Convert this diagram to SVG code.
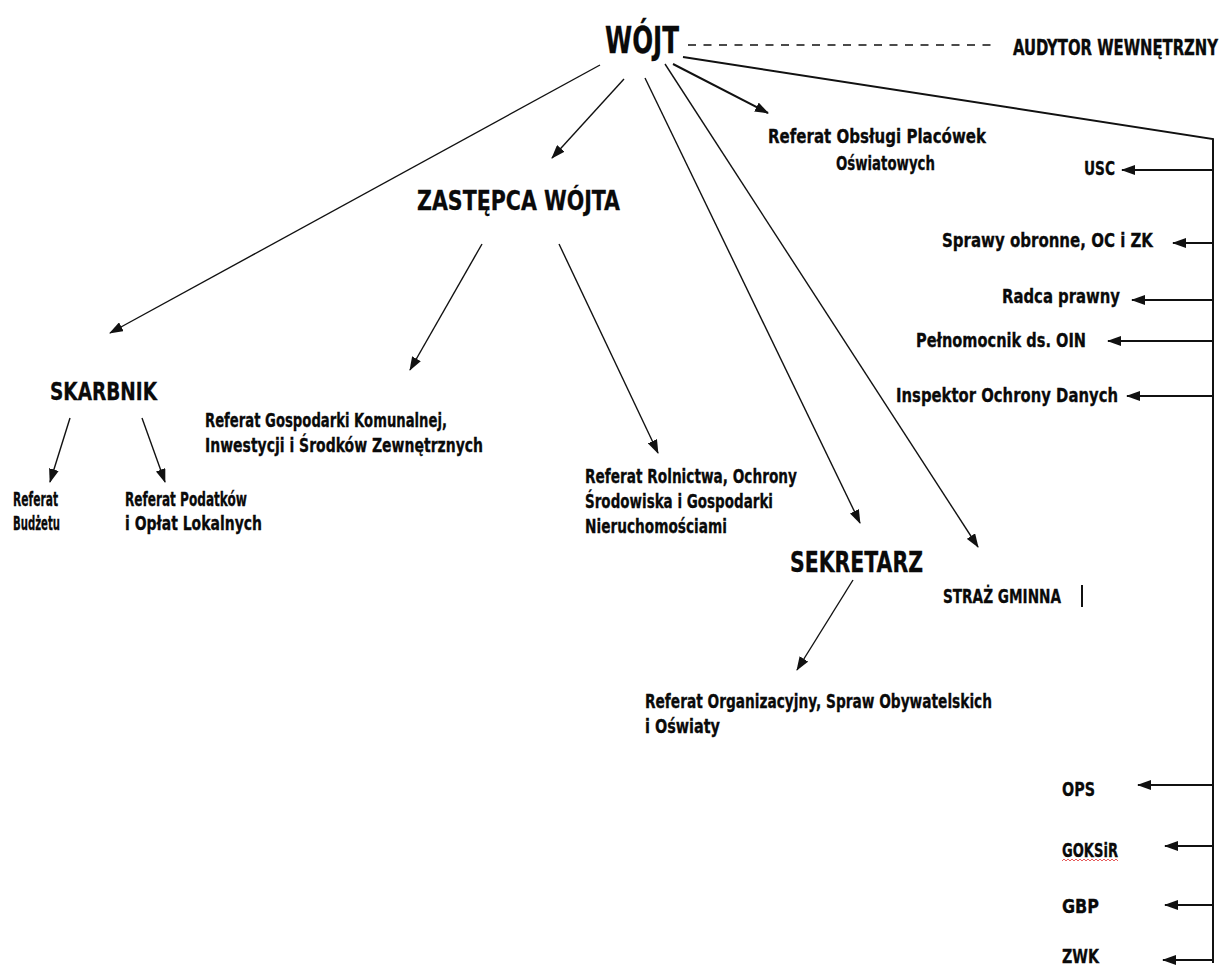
<svg xmlns="http://www.w3.org/2000/svg" width="1226" height="968" viewBox="0 0 1226 968">
<style>
text{font-family:"DejaVu Sans Condensed","DejaVu Sans","Liberation Sans",sans-serif;font-stretch:condensed;font-weight:bold;fill:#0a0a0a;stroke:#0a0a0a;stroke-width:0.3}
.lbl{font-size:20px}
.big{font-size:27px}
.ln{stroke:#111;stroke-width:1.4;fill:none}
.br{stroke:#111;stroke-width:2;fill:none}
.arr{marker-end:url(#ah)}
</style>
<defs>
<marker id="ah" markerUnits="userSpaceOnUse" markerWidth="14" markerHeight="10" viewBox="0 0 14 10" refX="13" refY="5" orient="auto">
<path d="M0,0 L14,5 L0,10 Z" fill="#111"/>
</marker>
</defs>
<rect width="1226" height="968" fill="#fff"/>
<g id="connectors">
<line class="ln" x1="688" y1="45" x2="997" y2="45" stroke-width="1.8" stroke-dasharray="8 7.5"/>
<line class="ln arr" x1="600" y1="65" x2="110" y2="333"/>
<line class="ln arr" x1="624" y1="79" x2="552" y2="158"/>
<line class="ln arr" x1="645" y1="78" x2="860" y2="523"/>
<line class="ln arr" x1="665" y1="64" x2="978" y2="547"/>
<line class="br arr" x1="673" y1="64" x2="768" y2="113"/>
<polyline class="br" points="683,57 1213,139 1213,963"/>
<line class="ln arr" x1="482" y1="244" x2="410" y2="370"/>
<line class="ln arr" x1="559" y1="244" x2="658" y2="453"/>
<line class="ln arr" x1="70" y1="418" x2="50" y2="482"/>
<line class="ln arr" x1="142" y1="418" x2="165" y2="482"/>
<line class="ln arr" x1="853" y1="580" x2="797" y2="670"/>
<line class="br arr" x1="1213" y1="170" x2="1122" y2="170"/>
<line class="br arr" x1="1213" y1="243" x2="1173" y2="243"/>
<line class="br arr" x1="1213" y1="300" x2="1132" y2="300"/>
<line class="br arr" x1="1213" y1="341" x2="1108" y2="341"/>
<line class="br arr" x1="1213" y1="396" x2="1127" y2="396"/>
<line class="br arr" x1="1213" y1="785" x2="1138" y2="785"/>
<line class="br arr" x1="1213" y1="846" x2="1165" y2="846"/>
<line class="br arr" x1="1213" y1="905" x2="1165" y2="905"/>
<line class="br arr" x1="1213" y1="960" x2="1163" y2="960"/>
<line class="br" x1="1082" y1="585" x2="1082" y2="607"/>
</g>
<g id="wojt"><text x="605" y="53" style="font-size:38px" textLength="74" lengthAdjust="spacingAndGlyphs">WÓJT</text></g>
<g id="audytor"><text transform="translate(1013,55) scale(1,1.25)" x="0" y="0" style="font-size:16.4px" textLength="205" lengthAdjust="spacingAndGlyphs">AUDYTOR WEWNĘTRZNY</text></g>
<g id="zastepca"><text class="big" x="417" y="210" textLength="203" lengthAdjust="spacingAndGlyphs">ZASTĘPCA WÓJTA</text></g>
<g id="skarbnik"><text x="50" y="400" style="font-size:25px" textLength="107" lengthAdjust="spacingAndGlyphs">SKARBNIK</text></g>
<g id="sekretarz"><text x="790" y="572" style="font-size:29px" textLength="133" lengthAdjust="spacingAndGlyphs">SEKRETARZ</text></g>
<g id="ref-oswiatowe">
<text class="lbl" x="768" y="143" textLength="218" lengthAdjust="spacingAndGlyphs">Referat Obsługi Placówek</text>
<text class="lbl" x="836" y="170" textLength="99" lengthAdjust="spacingAndGlyphs">Oświatowych</text>
</g>
<g id="ref-gk">
<text class="lbl" x="205" y="427" textLength="242" lengthAdjust="spacingAndGlyphs">Referat Gospodarki Komunalnej,</text>
<text class="lbl" x="205" y="452" textLength="278" lengthAdjust="spacingAndGlyphs">Inwestycji i Środków Zewnętrznych</text>
</g>
<g id="ref-rolnictwa">
<text class="lbl" x="585" y="483" textLength="212" lengthAdjust="spacingAndGlyphs">Referat Rolnictwa, Ochrony</text>
<text class="lbl" x="585" y="508" textLength="188" lengthAdjust="spacingAndGlyphs">Środowiska i Gospodarki</text>
<text class="lbl" x="585" y="533" textLength="142" lengthAdjust="spacingAndGlyphs">Nieruchomościami</text>
</g>
<g id="ref-budzetu">
<text class="lbl" x="13" y="506" textLength="45" lengthAdjust="spacingAndGlyphs">Referat</text>
<text class="lbl" x="13" y="530" textLength="47" lengthAdjust="spacingAndGlyphs">Budżetu</text>
</g>
<g id="ref-podatkow">
<text class="lbl" x="125" y="506" textLength="122" lengthAdjust="spacingAndGlyphs">Referat Podatków</text>
<text class="lbl" x="125" y="530" textLength="137" lengthAdjust="spacingAndGlyphs">i Opłat Lokalnych</text>
</g>
<g id="ref-organizacyjny">
<text class="lbl" x="645" y="708" textLength="347" lengthAdjust="spacingAndGlyphs">Referat Organizacyjny, Spraw Obywatelskich</text>
<text class="lbl" x="645" y="733" textLength="75" lengthAdjust="spacingAndGlyphs">i Oświaty</text>
</g>
<g id="straz"><text class="lbl" x="943" y="603" textLength="118" lengthAdjust="spacingAndGlyphs">STRAŻ GMINNA</text></g>
<g id="usc"><text class="lbl" x="1084" y="175" textLength="31" lengthAdjust="spacingAndGlyphs">USC</text></g>
<g id="sprawy"><text class="lbl" x="942" y="247" textLength="211" lengthAdjust="spacingAndGlyphs">Sprawy obronne, OC i ZK</text></g>
<g id="radca"><text class="lbl" x="1002" y="303" textLength="118" lengthAdjust="spacingAndGlyphs">Radca prawny</text></g>
<g id="pelnomocnik"><text class="lbl" x="916" y="347" textLength="170" lengthAdjust="spacingAndGlyphs">Pełnomocnik ds. OIN</text></g>
<g id="iod"><text class="lbl" x="896" y="402" textLength="222" lengthAdjust="spacingAndGlyphs">Inspektor Ochrony Danych</text></g>
<g id="ops"><text class="lbl" x="1062" y="796" textLength="33" lengthAdjust="spacingAndGlyphs">OPS</text></g>
<g id="goksir"><text class="lbl" x="1062" y="857" textLength="56" lengthAdjust="spacingAndGlyphs">GOKSiR</text>
<path d="M1062,861 l2,-2 l2,2 l2,-2 l2,2 l2,-2 l2,2 l2,-2 l2,2 l2,-2 l2,2 l2,-2 l2,2 l2,-2 l2,2 l2,-2 l2,2 l2,-2 l2,2 l2,-2 l2,2 l2,-2 l2,2 l2,-2 l2,2 l2,-2 l2,2 l2,-2 l2,2" fill="none" stroke="#e03030" stroke-width="0.8"/></g>
<g id="gbp"><text class="lbl" x="1062" y="913" textLength="37" lengthAdjust="spacingAndGlyphs">GBP</text></g>
<g id="zwk"><text class="lbl" x="1062" y="963" textLength="37" lengthAdjust="spacingAndGlyphs">ZWK</text></g>
</svg>
